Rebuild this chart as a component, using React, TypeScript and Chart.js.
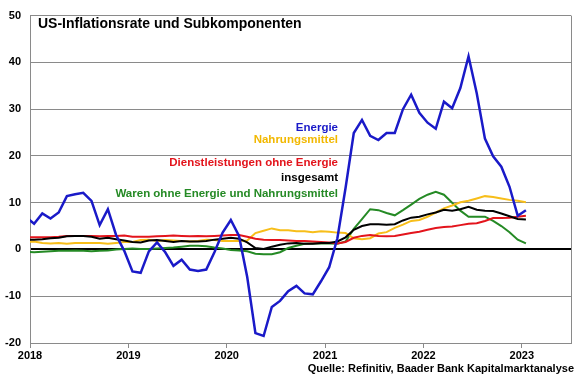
import React, { useEffect, useRef } from "react";
import { Chart, registerables } from "chart.js";

Chart.register(...registerables);

const TITLE = "US-Inflationsrate und Subkomponenten";
const SOURCE = "Quelle: Refinitiv, Baader Bank Kapitalmarktanalyse";
const YEAR_TICKS = [2018, 2019, 2020, 2021, 2022, 2023];
const Y_TICKS = [-20, -10, 0, 10, 20, 30, 40, 50];

// monthly observations, Dec 2017 .. Jan 2023 (year-over-year change in %)
const FIRST_YEAR = 2017;
const FIRST_MONTH = 12;

const energie = [
  6.9,
  5.5, 7.7, 6.6, 7.9, 11.4, 11.8, 12.1, 10.4, 5.2, 8.6, 3.1, -0.3,
  -4.7, -5.0, -0.4, 1.5, -0.6, -3.5, -2.2, -4.3, -4.6, -4.3, -0.6, 3.6,
  6.3, 2.9, -5.9, -17.9, -18.5, -12.3, -11.0, -8.9, -7.8, -9.4, -9.6, -6.8,
  -3.8, 2.4, 13.2, 24.9, 27.7, 24.3, 23.4, 24.9, 24.9, 30.0, 33.1, 29.2,
  27.1, 25.8, 31.6, 30.2, 34.5, 41.3, 33.4, 23.7, 19.9, 17.7, 13.4, 7.2,
  8.4,
];

const nahrungsmittel = [
  1.6,
  1.7, 1.4, 1.3, 1.4, 1.2, 1.4, 1.4, 1.4, 1.4, 1.2, 1.4, 1.6,
  1.6, 2.0, 2.1, 1.8, 2.0, 1.9, 1.8, 1.7, 1.8, 2.1, 2.0, 1.8,
  1.8, 1.8, 1.9, 3.5, 4.0, 4.5, 4.1, 4.1, 3.9, 3.9, 3.7, 3.9,
  3.8, 3.6, 3.5, 2.4, 2.2, 2.4, 3.4, 3.7, 4.6, 5.3, 6.1, 6.3,
  7.0, 7.9, 8.8, 9.4, 10.1, 10.4, 10.9, 11.4, 11.2, 10.9, 10.6, 10.4,
  10.1,
];

const dienstleistungen = [
  2.6,
  2.6, 2.6, 2.6, 2.7, 2.9, 2.9, 2.9, 2.9, 2.8, 2.9, 2.9, 3.0,
  2.7, 2.7, 2.7, 2.8, 2.9, 3.0, 2.9, 2.8, 2.9, 2.8, 2.9, 3.0,
  3.1, 3.1, 2.7, 2.3, 2.1, 2.0, 2.0, 1.9, 1.8, 1.8, 1.7, 1.6,
  1.5, 1.3, 1.6, 2.5, 2.9, 3.1, 2.9, 2.8, 2.9, 3.2, 3.5, 3.8,
  4.2, 4.6, 4.8, 4.9, 5.2, 5.5, 5.6, 6.1, 6.7, 6.7, 6.8, 7.0,
  7.2,
];

const insgesamt = [
  2.1,
  2.1, 2.2, 2.4, 2.5, 2.8, 2.9, 2.9, 2.7, 2.3, 2.5, 2.2, 1.9,
  1.6, 1.5, 1.9, 2.0, 1.8, 1.6, 1.8, 1.7, 1.7, 1.8, 2.1, 2.3,
  2.5, 2.3, 1.5, 0.3, 0.1, 0.6, 1.0, 1.3, 1.4, 1.2, 1.2, 1.4,
  1.4, 1.7, 2.6, 4.2, 5.0, 5.4, 5.4, 5.3, 5.4, 6.2, 6.8, 7.0,
  7.5, 7.9, 8.5, 8.3, 8.6, 9.1, 8.5, 8.3, 8.2, 7.7, 7.1, 6.5,
  6.4,
];

const waren = [
  -0.5,
  -0.6, -0.5, -0.4, -0.3, -0.3, -0.2, -0.3, -0.4, -0.3, -0.2, 0.0, 0.1,
  0.2, 0.1, 0.1, 0.2, 0.3, 0.4, 0.6, 0.8, 0.8, 0.7, 0.4, 0.2,
  -0.1, -0.2, -0.4, -0.9, -1.0, -1.0, -0.6, 0.3, 0.8, 1.2, 1.3, 1.3,
  1.3, 1.2, 1.7, 4.4, 6.5, 8.6, 8.4, 7.8, 7.3, 8.4, 9.6, 10.8,
  11.7, 12.3, 11.7, 10.0, 8.3, 7.0, 7.0, 7.0, 6.1, 5.0, 3.7, 2.1,
  1.3,
];

const SERIES = [
  { label: "Energie", data: energie, color: "#1a1ac8", width: 2.5 },
  { label: "insgesamt", data: insgesamt, color: "#000000", width: 2 },
  { label: "Dienstleistungen ohne Energie", data: dienstleistungen, color: "#e3141c", width: 2 },
  { label: "Nahrungsmittel", data: nahrungsmittel, color: "#f7be1a", width: 2 },
  { label: "Waren ohne Energie und Nahrungsmittel", data: waren, color: "#258a25", width: 2 },
];

const LEGEND_ORDER = [
  "Energie",
  "Nahrungsmittel",
  "Dienstleistungen ohne Energie",
  "insgesamt",
  "Waren ohne Energie und Nahrungsmittel",
];

const FONT = "'Liberation Sans', Arial, Helvetica, sans-serif";
const GRID = "#8a8a8a";

function monthX(i: number): number {
  const m = FIRST_MONTH - 1 + i; // months since Jan of FIRST_YEAR
  return FIRST_YEAR + (m + 0.5) / 12;
}

const overlay = {
  id: "overlay",
  afterDatasetsDraw(chart: any) {
    const { ctx, chartArea } = chart;
    ctx.save();
    ctx.strokeStyle = GRID;
    ctx.lineWidth = 1;
    ctx.beginPath();
    ctx.moveTo(chartArea.right + 0.5, chartArea.top);
    ctx.lineTo(chartArea.right + 0.5, chartArea.bottom);
    ctx.stroke();
    ctx.restore();
  },
  afterDraw(chart: any) {
    const { ctx } = chart;
    ctx.save();
    ctx.fillStyle = "#000";
    ctx.textAlign = "left";
    ctx.textBaseline = "alphabetic";
    ctx.font = `bold 14px ${FONT}`;
    ctx.fillText(TITLE, 38, 28);

    ctx.font = `bold 11.5px ${FONT}`;
    ctx.textAlign = "right";
    const baselines = [131, 143, 166, 181, 197];
    LEGEND_ORDER.forEach((name, k) => {
      const s = SERIES.find((d) => d.label === name)!;
      ctx.fillStyle = s.color === "#f7be1a" ? "#f2b800" : s.color;
      ctx.fillText(name, 338, baselines[k]);
    });

    ctx.fillStyle = "#000";
    ctx.font = `bold 11px ${FONT}`;
    ctx.fillText(SOURCE, 574, 372);
    ctx.restore();
  },
};

export default function App() {
  const ref = useRef<HTMLCanvasElement | null>(null);

  useEffect(() => {
    if (!ref.current) return;
    const chart = new Chart(ref.current, {
      type: "line",
      data: {
        datasets: SERIES.map((s) => ({
          label: s.label,
          data: s.data.map((v, i) => ({ x: monthX(i), y: v })),
          borderColor: s.color,
          backgroundColor: s.color,
          borderWidth: s.width,
          pointRadius: 0,
          tension: 0,
          fill: false,
          clip: 0,
        })),
      },
      options: {
        responsive: false,
        animation: false,
        layout: { padding: { top: 10, right: 9, left: 0, bottom: 0 } },
        plugins: {
          legend: { display: false },
          title: { display: false },
          tooltip: { enabled: false },
        },
        scales: {
          x: {
            type: "linear",
            min: 2018,
            max: 2023.5,
            afterBuildTicks: (scale: any) => {
              scale.ticks = YEAR_TICKS.map((v) => ({ value: v }));
            },
            afterFit: (scale: any) => {
              scale.height = 32;
            },
            ticks: {
              autoSkip: false,
              maxRotation: 0,
              padding: 1,
              color: "#000",
              font: { family: FONT, size: 11, weight: "bold" },
              callback: (v: any) => String(v),
            },
            grid: {
              drawOnChartArea: false,
              drawTicks: true,
              tickLength: 5,
              color: GRID,
            },
            border: { display: true, color: GRID, width: 1 },
          },
          y: {
            type: "linear",
            min: -20,
            max: 50,
            afterBuildTicks: (scale: any) => {
              scale.ticks = Y_TICKS.map((v) => ({ value: v }));
            },
            afterFit: (scale: any) => {
              scale.width = 30;
            },
            ticks: {
              padding: 9,
              color: "#000",
              font: { family: FONT, size: 11, weight: "bold" },
              callback: (v: any) => String(v),
            },
            grid: {
              drawTicks: false,
              color: (c: any) => (c.tick && c.tick.value === 0 ? "#000" : GRID),
              lineWidth: (c: any) => (c.tick && c.tick.value === 0 ? 2 : 1),
            },
            border: { display: true, color: GRID, width: 1 },
          },
        },
      },
      plugins: [overlay],
    });
    return () => chart.destroy();
  }, []);

  return (
    <div style={{ position: "absolute", left: 0, top: 0, width: 580, height: 375, background: "#fff" }}>
      <canvas ref={ref} width={580} height={375} style={{ display: "block" }} />
    </div>
  );
}
